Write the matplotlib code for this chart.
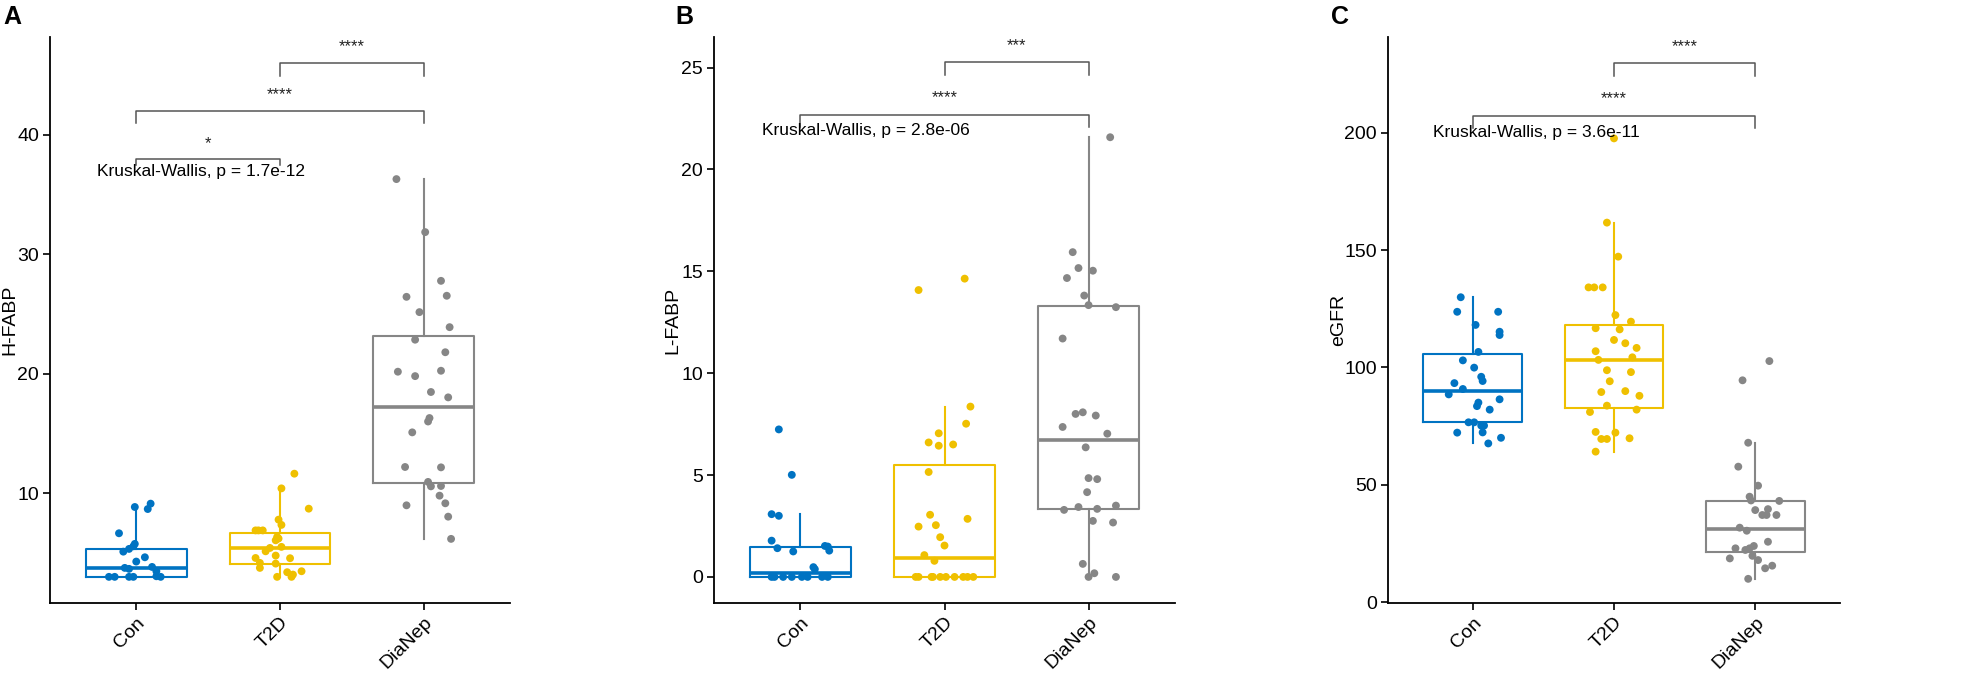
import matplotlib
matplotlib.use("Agg")
import matplotlib.pyplot as plt

plt.rcParams['font.family'] = ['Liberation Sans', 'DejaVu Sans']

groups = ["Con", "T2D", "DiaNep"]
colors = ["#0073C2", "#EFC000", "#868686"]

# ---- panel A: H-FABP ----
hfabp_con_dx = [-0.01, 0.08, 0.10, -0.12, -0.09, -0.05, -0.02, -0.01, 0.06, 0.0, -0.08, -0.05, 0.11, 0.14,
                -0.19, -0.15, -0.05, -0.02, 0.14, 0.17]
hfabp_con_y = [8.84, 8.67, 9.12, 6.64, 5.10, 5.33, 5.55, 5.75, 4.63, 4.27, 3.74, 3.66, 3.82, 3.46,
               2.99, 2.99, 2.99, 2.99, 3.04, 2.99]
hfabp_t2d_dx = [0.10, 0.01, 0.20, -0.01, 0.01, -0.17, -0.15, -0.12, -0.02, -0.03, -0.01, 0.01, -0.07, -0.10,
                -0.03, -0.17, 0.07, -0.14, -0.14, -0.03, 0.05, 0.09, 0.15, -0.02, 0.08]
hfabp_t2d_y = [11.63, 10.40, 8.70, 7.78, 7.34, 6.88, 6.88, 6.88, 6.33, 6.05, 6.2, 5.50, 5.41, 5.13,
               4.77, 4.57, 4.55, 4.16, 3.74, 4.10, 3.38, 3.18, 3.46, 2.99, 2.99]
hfabp_dn_dx = [-0.19, 0.01, 0.12, -0.12, 0.16, -0.03, 0.18, -0.06, 0.15, -0.18, 0.12, -0.06, 0.05, 0.17,
               0.04, 0.03, -0.08, -0.13, 0.12, 0.03, 0.05, 0.12, -0.12, 0.11, 0.15, 0.17, 0.19]
hfabp_dn_y = [36.3, 31.86, 27.78, 26.44, 26.53, 25.16, 23.9, 22.85, 21.8, 20.17, 20.25, 19.8, 18.47, 18.02,
              16.29, 16.0, 15.09, 12.19, 12.16, 10.94, 10.57, 10.6, 8.98, 9.79, 9.15, 8.03, 6.17]
hfabp_q1 = [2.99, 4.10, 10.86]
hfabp_med = [3.70, 5.38, 17.21]
hfabp_q3 = [5.33, 6.69, 23.12]
hfabp_lo = [2.99, 2.99, 6.17]
hfabp_hi = [8.84, 10.40, 36.3]

# ---- panel B: L-FABP ----
lfabp_con_dx = [-0.15, -0.06, -0.20, -0.15, -0.20, -0.16, -0.05, 0.17, 0.19, 0.20, 0.09, 0.10,
                -0.20, -0.18, -0.12, -0.06, 0.01, 0.05, 0.15, 0.19]
lfabp_con_y = [7.24, 5.01, 3.08, 3.0, 1.78, 1.41, 1.25, 1.52, 1.49, 1.29, 0.48, 0.38,
               0, 0, 0, 0, 0, 0, 0, 0]
lfabp_t2d_dx = [-0.18, 0.14, 0.18, 0.15, -0.04, -0.11, -0.04, 0.06, -0.11, -0.10, 0.16, -0.18, -0.06, -0.03,
                0.0, -0.14, -0.07, -0.20, -0.18, -0.09, -0.08, -0.03, 0.01, 0.07, 0.13, 0.16, 0.20]
lfabp_t2d_y = [14.08, 14.64, 8.36, 7.52, 7.05, 6.6, 6.44, 6.5, 5.15, 3.05, 2.85, 2.47, 2.54, 1.95,
               1.54, 1.07, 0.79, 0, 0, 0, 0, 0, 0, 0, 0, 0, 0]
lfabp_dn_dx = [0.15, -0.11, -0.07, 0.03, -0.15, -0.03, 0.0, 0.19, -0.18, -0.09, -0.04, 0.05, -0.18, 0.13,
               -0.02, 0.0, 0.06, -0.01, -0.17, -0.07, 0.06, 0.19, 0.03, 0.17, -0.04, 0.04, 0.0, 0.19]
lfabp_dn_y = [21.58, 15.94, 15.16, 15.03, 14.67, 13.81, 13.34, 13.24, 11.70, 8.0, 8.08, 7.92, 7.36, 7.03,
              6.36, 4.85, 4.8, 4.16, 3.29, 3.43, 3.34, 3.5, 2.75, 2.67, 0.64, 0.18, 0.0, 0.0]
lfabp_q1 = [0.0, 0.0, 3.34]
lfabp_med = [0.21, 0.95, 6.72]
lfabp_q3 = [1.49, 5.49, 13.29]
lfabp_lo = [0.0, 0.0, 0.0]
lfabp_hi = [3.08, 8.36, 21.58]

# ---- panel C: eGFR ----
egfr_con_dx = [-0.085, -0.11, 0.18, 0.02, 0.19, 0.19, 0.04, -0.07, 0.01, 0.06, 0.07, -0.13, -0.07, -0.17,
               0.19, 0.04, 0.03, 0.12, -0.03, 0.01, 0.06, 0.08, 0.07, -0.11, 0.20, 0.11]
egfr_con_y = [129.9, 123.7, 123.7, 118.1, 115.2, 113.8, 106.6, 103.0, 99.9, 96.0, 94.2, 93.3, 90.8, 88.5,
              86.4, 85.0, 83.5, 82.0, 76.6, 76.6, 75.2, 75.2, 72.3, 72.2, 70.0, 67.6]
egfr_t2d_dx = [0.0, -0.05, 0.03, -0.18, -0.14, -0.08, 0.01, 0.12, -0.13, 0.04, 0.0, 0.08, 0.16, -0.13,
               0.13, -0.11, -0.05, 0.12, -0.03, -0.09, 0.08, 0.18, -0.05, -0.17, 0.16, -0.13, 0.01,
               -0.09, -0.05, 0.11, -0.13]
egfr_t2d_y = [197.6, 161.7, 147.2, 134.1, 134.1, 134.1, 122.3, 119.5, 116.7, 116.2, 111.7, 110.3, 108.3, 106.9,
              104.3, 103.2, 98.8, 98.0, 94.1, 89.5, 89.9, 87.9, 83.7, 81.0, 82.0, 72.5, 72.2,
              69.5, 69.5, 69.8, 64.1]
egfr_dn_dx = [0.10, -0.09, -0.05, -0.12, 0.02, -0.04, -0.03, 0.17, 0.0, 0.09, 0.05, 0.08, 0.15, -0.11,
              -0.06, 0.09, -0.14, -0.07, -0.04, -0.01, -0.18, -0.02, 0.02, 0.07, 0.12, -0.05]
egfr_dn_y = [102.7, 94.5, 67.9, 57.7, 49.6, 44.9, 43.3, 43.1, 39.2, 39.6, 37.1, 37.1, 37.1, 31.7,
             30.4, 25.7, 22.9, 22.2, 22.9, 23.9, 18.6, 19.7, 17.9, 14.4, 15.5, 9.9]
egfr_q1 = [76.6, 82.8, 21.4]
egfr_med = [89.9, 103.2, 31.0]
egfr_q3 = [105.7, 118.1, 43.1]
egfr_lo = [67.6, 64.1, 9.9]
egfr_hi = [129.9, 161.7, 67.9]

# pairwise comparison brackets: (group a, group b, bracket y, tick drop, label, label y)
hfabp_pairs = [(1, 2, 38.0, 0.5, "*", 39.3), (1, 3, 42.0, 1.0, "****", 43.4), (2, 3, 46.0, 1.1, "****", 47.4)]
lfabp_pairs = [(2, 3, 25.27, 0.64, "***", 26.06), (1, 3, 22.66, 0.6, "****", 23.5)]
egfr_pairs = [(2, 3, 229.8, 5.6, "****", 236.6), (1, 3, 207.2, 5.2, "****", 214.4)]

kw_labels = ["Kruskal-Wallis, p = 1.7e-12", "Kruskal-Wallis, p = 2.8e-06", "Kruskal-Wallis, p = 3.6e-11"]
kw_pos = [(0.73, 36.9), (0.73, 21.9), (0.72, 200.3)]

panels = [
    dict(letter="A", ylabel="H-FABP", dx=[hfabp_con_dx, hfabp_t2d_dx, hfabp_dn_dx],
         y=[hfabp_con_y, hfabp_t2d_y, hfabp_dn_y],
         box=(hfabp_q1, hfabp_med, hfabp_q3, hfabp_lo, hfabp_hi), pairs=hfabp_pairs,
         ylim=(0.8, 48.2), yticks=[10, 20, 30, 40], rect=(50, 510), lab_x=10, let_x=3),
    dict(letter="B", ylabel="L-FABP", dx=[lfabp_con_dx, lfabp_t2d_dx, lfabp_dn_dx],
         y=[lfabp_con_y, lfabp_t2d_y, lfabp_dn_y],
         box=(lfabp_q1, lfabp_med, lfabp_q3, lfabp_lo, lfabp_hi), pairs=lfabp_pairs,
         ylim=(-1.28, 26.5), yticks=[0, 5, 10, 15, 20, 25], rect=(714, 1175), lab_x=673, let_x=675),
    dict(letter="C", ylabel="eGFR", dx=[egfr_con_dx, egfr_t2d_dx, egfr_dn_dx],
         y=[egfr_con_y, egfr_t2d_y, egfr_dn_y],
         box=(egfr_q1, egfr_med, egfr_q3, egfr_lo, egfr_hi), pairs=egfr_pairs,
         ylim=(-0.4, 240.8), yticks=[0, 50, 100, 150, 200], rect=(1388, 1840), lab_x=1339, let_x=1331),
]

W, H = 1978, 678
fig = plt.figure(figsize=(W / 100, H / 100), dpi=100)

for i, p in enumerate(panels):
    x0, x1 = p["rect"]
    ax = fig.add_axes([x0 / W, (H - 603) / H, (x1 - x0) / W, (603 - 37) / H])

    q1, med, q3, lo, hi = p["box"]
    for g in range(3):
        stats = [dict(q1=q1[g], med=med[g], q3=q3[g], whislo=lo[g], whishi=hi[g], fliers=[])]
        ax.bxp(stats, positions=[g + 1], widths=0.7, showcaps=False, showfliers=False,
               boxprops=dict(color=colors[g], linewidth=1.5),
               whiskerprops=dict(color=colors[g], linewidth=1.5),
               medianprops=dict(color=colors[g], linewidth=2.6))
        xs = [g + 1 + d for d in p["dx"][g]]
        ax.scatter(xs, p["y"][g], s=32, color=colors[g], edgecolors="none", zorder=3)

    for a, b, yb, drop, lab, ly in p["pairs"]:
        ax.plot([a, a, b, b], [yb - drop, yb, yb, yb - drop], color="#555555", linewidth=1.1, zorder=4)
        ax.text((a + b) / 2, ly, lab, ha="center", va="center", fontsize=12, color="#222222")

    kx, ky = kw_pos[i]
    ax.text(kx, ky, kw_labels[i], ha="left", va="center", fontsize=12.5, zorder=5)

    ax.set_xlim(0.4, 3.6)
    ax.set_ylim(*p["ylim"])
    ax.set_yticks(p["yticks"])
    ax.set_xticks([1, 2, 3])
    ax.set_xticklabels(groups, rotation=45, ha="right", rotation_mode="anchor")
    ax.tick_params(labelsize=14, length=5, width=1.2, colors="black", pad=3)
    for s in ["top", "right"]:
        ax.spines[s].set_visible(False)
    for s in ["left", "bottom"]:
        ax.spines[s].set_linewidth(1.3)

    fig.text(p["lab_x"] / W, 1 - 320 / H, p["ylabel"], rotation=90, fontsize=14,
             ha="center", va="center")
    fig.text(p["let_x"] / W, 1 - 17 / H, p["letter"], fontsize=18, fontweight="bold",
             ha="left", va="center")

fig.savefig("out.png", dpi=100)
